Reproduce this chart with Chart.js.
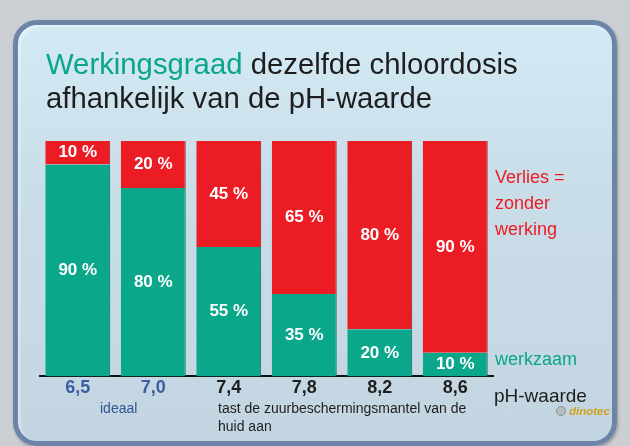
<!DOCTYPE html>
<html>
<head>
<meta charset="utf-8">
<script src="https://cdn.jsdelivr.net/npm/chart.js@4.4.1/dist/chart.umd.min.js"></script>
<style>
  html, body { margin: 0; padding: 0; }
  body {
    width: 630px; height: 446px; overflow: hidden; position: relative;
    background: #cbced2;
    font-family: "Liberation Sans", Arial, sans-serif;
  }
  #panel {
    position: absolute; left: 13px; top: 20px; width: 594px; height: 416px;
    border: 5px solid #6c84a8; border-radius: 24px;
    background: linear-gradient(180deg, #d3eaf5 0%, #c9dde8 40%, #c3d5e0 100%);
    box-shadow: inset 2px 2px 3px rgba(255,255,255,0.5), 1px 2px 3px rgba(60,70,90,0.4);
  }
  canvas { position: absolute; left: 0; top: 0; }
  .txt { position: absolute; white-space: nowrap; }
  #title { left: 46px; top: 47px; font-size: 29.3px; line-height: 34px; color: #1e1e1e; }
  #title .hl { color: #0aa58b; }
  #verlies { left: 495px; top: 164px; font-size: 18px; line-height: 26px; color: #ec1c24; }
  #werkzaam { left: 495px; top: 346px; font-size: 18px; line-height: 26px; color: #0aa58b; }
  #ph { left: 494px; top: 386px; font-size: 19px; line-height: 19px; color: #1e1e1e; }
  #ideaal { left: 100px; top: 401px; font-size: 14px; line-height: 14px; color: #2f5597; }
  #tast { left: 218px; top: 399px; font-size: 14px; line-height: 18px; color: #1e1e1e; }
  #logo { left: 556px; top: 405px; font-size: 11.5px; line-height: 12px; font-weight: bold; font-style: italic; color: #d2a21a; }
  #logo .dot { display: inline-block; width: 8px; height: 8px; border-radius: 50%; border: 1px solid #8a8f96; background: #b7bcc2; margin-right: 3px; vertical-align: -1px; }
</style>
</head>
<body>
<div id="panel"></div>
<canvas id="chart" width="630" height="446"></canvas>
<div class="txt" id="title"><span class="hl">Werkingsgraad</span> dezelfde chloordosis<br>afhankelijk van de pH-waarde</div>
<div class="txt" id="verlies">Verlies =<br>zonder<br>werking</div>
<div class="txt" id="werkzaam">werkzaam</div>
<div class="txt" id="ph">pH-waarde</div>
<div class="txt" id="ideaal">ideaal</div>
<div class="txt" id="tast">tast de zuurbeschermingsmantel van de<br>huid aan</div>
<div class="txt" id="logo"><span class="dot"></span>dinotec</div>
<script>
const phLabels = ['6,5', '7,0', '7,4', '7,8', '8,2', '8,6'];
const werkzaam = [90, 80, 55, 35, 20, 10];
const verlies = [10, 20, 45, 65, 80, 90];
const idealCount = 2;

const teal = '#0aa78b';
const red = '#ec1c24';

const barLabels = {
    id: 'barLabels',
    afterDatasetsDraw(chart) {
        const ctx = chart.ctx;
        ctx.save();
        ctx.fillStyle = '#ffffff';
        ctx.font = 'bold 17px "Liberation Sans", Arial, sans-serif';
        ctx.textAlign = 'center';
        ctx.textBaseline = 'middle';
        chart.data.datasets.forEach((ds, i) => {
            chart.getDatasetMeta(i).data.forEach((bar, j) => {
                const mid = (bar.y + bar.base) / 2;
                ctx.fillText(ds.data[j] + ' %', bar.x, mid);
            });
        });
        ctx.restore();
    }
};

new Chart(document.getElementById('chart'), {
    type: 'bar',
    data: {
        labels: phLabels,
        datasets: [
            {
                label: 'werkzaam',
                data: werkzaam,
                backgroundColor: teal,
                borderColor: '#0b6f5e',
                borderWidth: { right: 1, left: 0, top: 0, bottom: 0 },
                borderSkipped: false
            },
            {
                label: 'Verlies',
                data: verlies,
                backgroundColor: red,
                borderColor: '#9c1a1e',
                borderWidth: { right: 1, left: 0, top: 0, bottom: 0 },
                borderSkipped: false
            }
        ]
    },
    options: {
        responsive: false,
        animation: false,
        categoryPercentage: 1,
        barPercentage: 0.86,
        layout: { padding: { left: 40, right: 137, top: 141, bottom: 46 } },
        plugins: {
            legend: { display: false },
            tooltip: { enabled: false }
        },
        scales: {
            x: {
                stacked: true,
                grid: { display: false, drawTicks: false },
                border: { display: true, color: '#111111', width: 2 },
                ticks: {
                    padding: 1,
                    font: { family: '"Liberation Sans", Arial, sans-serif', size: 18, weight: 'bold' },
                    color: c => c.index < idealCount ? '#3a5ea6' : '#1e1e1e'
                }
            },
            y: {
                stacked: true,
                display: false,
                min: 0,
                max: 100
            }
        }
    },
    plugins: [barLabels]
});
</script>
</body>
</html>
